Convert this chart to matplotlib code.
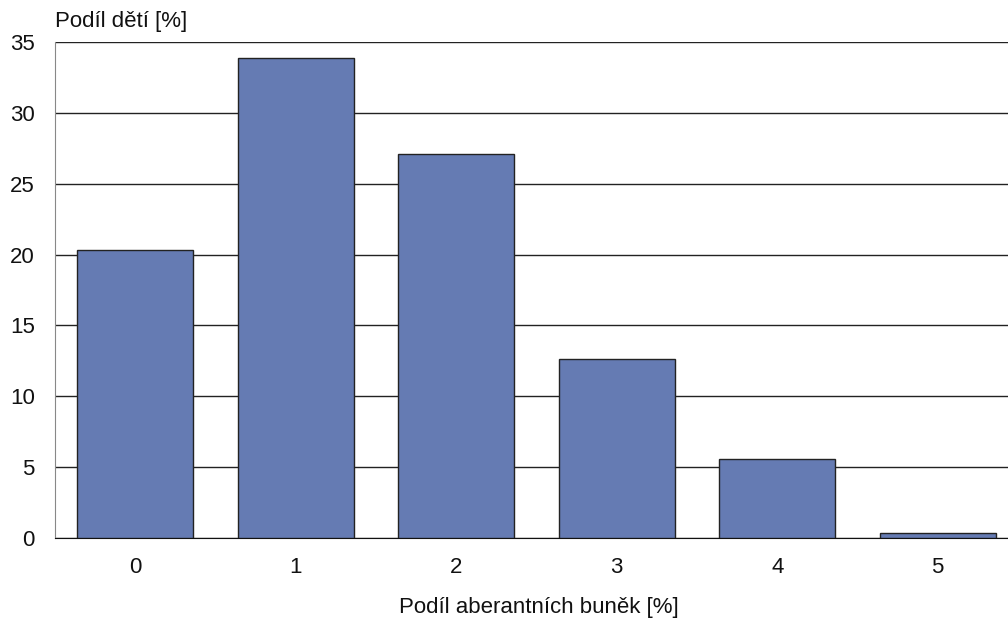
import matplotlib
matplotlib.use("Agg")
import matplotlib.pyplot as plt

categories = ["0", "1", "2", "3", "4", "5"]
values = [20.3, 33.9, 27.1, 12.6, 5.6, 0.35]
yticks = [0, 5, 10, 15, 20, 25, 30, 35]

plt.rcParams['font.family'] = ['Liberation Sans', 'DejaVu Sans']

fig = plt.figure(figsize=(10.08, 6.2), dpi=100)
# axes spans a bit beyond the right edge, like the original
ax = fig.add_axes([55/1008, 1 - 538/620, 963/1008, 496/620])

x = range(len(categories))
ax.bar(x, values, width=0.72, color="#657BB3", edgecolor="#222222", linewidth=1, zorder=3)

ax.set_xlim(-0.5, 5.5)
ax.set_ylim(0, 35)
ax.set_yticks(yticks)
ax.set_xticks(list(x))
ax.set_xticklabels(categories)
ax.yaxis.grid(True, color="#222222", linewidth=1)
ax.set_axisbelow(True)

for s in ["top", "right"]:
    ax.spines[s].set_visible(False)
ax.spines["left"].set_color("#888888")
ax.spines["bottom"].set_color("#111111")
ax.tick_params(axis="both", length=0, labelsize=16, colors="#111111")
ax.tick_params(axis="y", pad=14.5)
ax.tick_params(axis="x", pad=14)

fig.text(55/1008, 1 - 22/620, "Podíl dětí [%]", fontsize=16, ha="left", va="center", color="#111111")
fig.text(539/1008, 1 - 608/620, "Podíl aberantních buněk [%]", fontsize=16, ha="center", va="center", color="#111111")

fig.savefig("out.png", dpi=100)
